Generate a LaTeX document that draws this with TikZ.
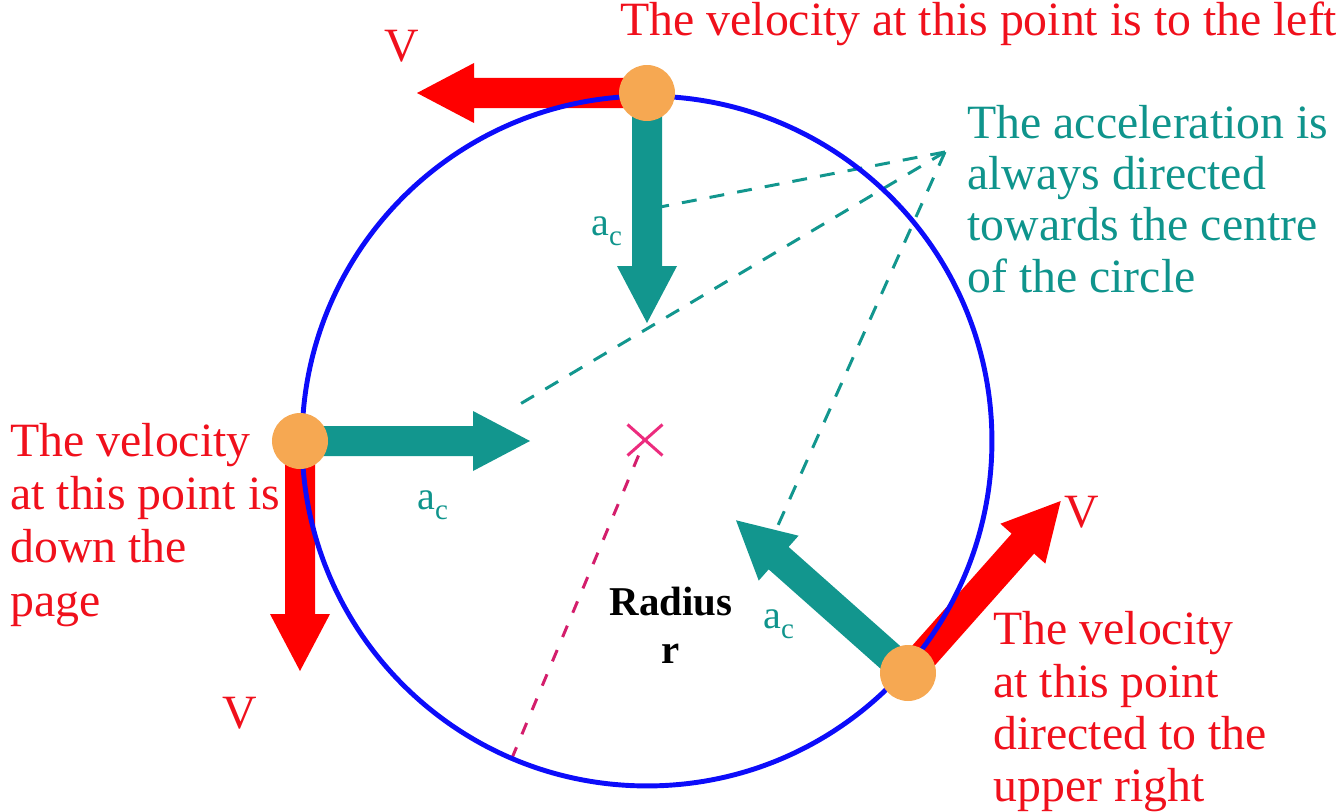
\documentclass[tikz,border=0pt]{standalone}
\usepackage{fontspec}
\setmainfont{Liberation Serif}
\usetikzlibrary{shapes.misc}
\definecolor{vred}{RGB}{255,0,0}
\definecolor{tred}{RGB}{240,16,28}
\definecolor{cblue}{RGB}{12,12,250}
\definecolor{tealA}{RGB}{18,150,142}
\definecolor{tealT}{RGB}{15,148,140}
\definecolor{dotor}{RGB}{246,168,82}
\definecolor{magL}{RGB}{212,30,108}
\definecolor{magX}{RGB}{236,44,126}
\begin{document}
\begin{tikzpicture}[x=0.02cm,y=-0.02cm,
  dotnode/.style={circle,fill=dotor,minimum size=1.12cm,inner sep=0pt},
  fatarrow/.pic={\fill (0,-15) -- (173,-15) -- (173,-30) -- (230,0) -- (173,30) -- (173,15) -- (0,15) -- cycle;},
  lbl/.style={inner sep=0pt,font=\fontsize{27.2}{29.6}\selectfont},
  redtxt/.style={lbl,text=tred,align=left},
  teatxt/.style={lbl,text=tealT,align=left},
  vlbl/.style={lbl,text=tred},
  acc/.style={inner sep=0pt,text=tealT},
  tdash/.style={tealA,line width=1.7pt,dash pattern=on 8.5pt off 7.5pt},
  rdash/.style={magL,line width=1.7pt,dash pattern=on 7pt off 8pt},
]
\useasboundingbox (0,0) rectangle (1344,811);
% key points
\coordinate (pT) at (647,93);
\coordinate (pL) at (300,441);
\coordinate (pB) at (908,673);
\coordinate (conv) at (945,152);
\coordinate (e1) at (660,207);
\coordinate (e2) at (510,410);
\coordinate (e3) at (775,532);
\coordinate (rend) at (512,758);
% dashed pointer lines
\draw[tdash] (conv) -- (e1);
\draw[tdash] (conv) -- (e2);
\draw[tdash] (conv) -- (e3);
% centre mark and radius
\node[cross out,draw=magX,line width=1.7pt,minimum width=0.64cm,minimum height=0.56cm,inner sep=0pt] (xm) at (645,440) {};
\draw[rdash] (xm) -- (rend);
% arrows
\pic[vred,rotate=180] at (pT) {fatarrow};
\pic[tealA,rotate=-90] at (pT) {fatarrow};
\pic[tealA,rotate=0] at (pL) {fatarrow};
\pic[vred,rotate=-90] at (pL) {fatarrow};
\pic[vred,rotate=48.4] at (pB) {fatarrow};
\pic[tealA,rotate=138.4] at (pB) {fatarrow};
% circle
\node[draw=cblue,circle,line width=2.8pt,minimum size=13.8cm,inner sep=0pt] (circ) at (647,441) {};
% dots
\node[dotnode] (dT) at (pT) {};
\node[dotnode] (dL) at (pL) {};
\node[dotnode] (dB) at (pB) {};
% texts (multi-line nodes: base = baseline of last line)
\node[redtxt,anchor=base west] (tTop) at (620,36) {The velocity at this point is to the left};
\node[redtxt,anchor=base west,font=\fontsize{27.2}{30.2}\selectfont] (tLeft) at (10,616) {The velocity\\at this point is\\down the\\page};
\node[teatxt,anchor=base west,font=\fontsize{27.2}{29.2}\selectfont] (tAcc) at (967,292) {The acceleration is\\always directed\\towards the centre\\of the circle};
\node[redtxt,anchor=base west] (tBR) at (993,801) {The velocity\\at this point\\directed to the\\upper right};
\node[vlbl,anchor=base] (vT) at (402,62) {V};
\node[vlbl,anchor=base] (vL) at (240,728) {V};
\node[vlbl,anchor=base] (vB) at (1082,527) {V};
\node[acc,anchor=base west] (aT) at (591,235) {\fontsize{22.8}{22.8}\selectfont a\raisebox{-5.7pt}{\fontsize{16.5}{16.5}\selectfont c}};
\node[acc,anchor=base west] (aL) at (417,509) {\fontsize{22.8}{22.8}\selectfont a\raisebox{-5.7pt}{\fontsize{16.5}{16.5}\selectfont c}};
\node[acc,anchor=base west] (aB) at (763,628) {\fontsize{22.8}{22.8}\selectfont a\raisebox{-5.7pt}{\fontsize{16.5}{16.5}\selectfont c}};
\node[inner sep=0pt,align=center,anchor=base,font=\bfseries\fontsize{23.3}{27.3}\selectfont] (rad) at (671,663) {Radius\\r};
\end{tikzpicture}
\end{document}
